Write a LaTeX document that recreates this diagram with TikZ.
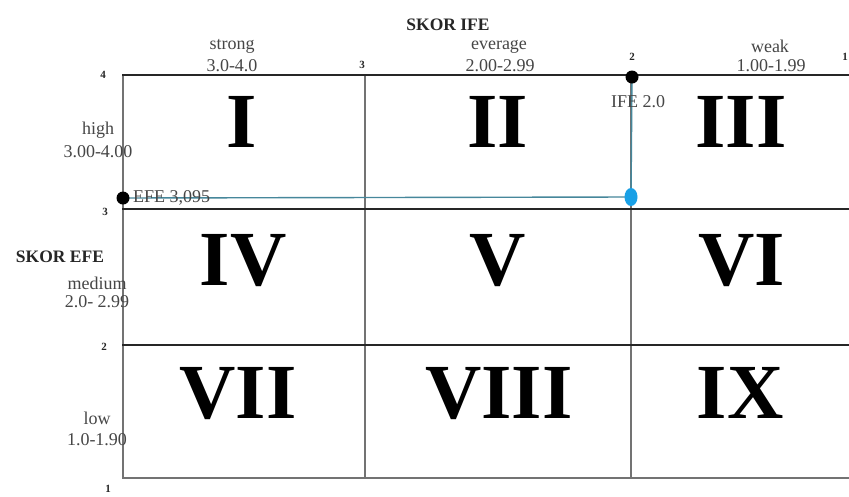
\documentclass[tikz,border=0pt]{standalone}
\usepackage{fontspec}
\setmainfont{Liberation Serif}
\usetikzlibrary{shapes.geometric,backgrounds}
\definecolor{txtgray}{RGB}{70,70,70}
\definecolor{linkcol}{RGB}{70,135,155}
\definecolor{dotblue}{RGB}{25,160,230}
\tikzset{
  lbl/.style={font=\fontsize{18}{18}\selectfont, text=txtgray, inner sep=0pt},
  ttl/.style={font=\fontsize{17.5}{17.5}\selectfont\bfseries, text=black!85, inner sep=0pt},
  tick/.style={font=\fontsize{11}{11}\selectfont\bfseries, text=black!85, inner sep=0pt},
  roman/.style={font=\fontsize{78}{78}\selectfont\bfseries, text=black, inner sep=0pt, anchor=base},
  hline/.style={line width=1.8pt, draw=black!85},
  vline/.style={line width=1.3pt, draw=black!55},
  link/.style={line width=1.4pt, draw=linkcol},
  blackdot/.style={circle, fill=black, inner sep=0pt, minimum size=13pt},
  bluedot/.style={ellipse, fill=dotblue, inner sep=0pt, minimum width=13pt, minimum height=18pt}
}
\begin{document}
\begin{tikzpicture}[x=1pt,y=-1pt]
\useasboundingbox (0,0) rectangle (849,496);
\begin{scope}[on background layer]
  \fill[white] (0,0) rectangle (849,496);
  \draw[vline] (123,75) -- (123,478);
  \draw[vline] (365,75) -- (365,478);
  \draw[vline] (631,75) -- (631,478);
  \draw[hline] (122,75) -- (849,75);
  \draw[hline] (122,209) -- (849,209);
  \draw[hline] (122,345) -- (849,345);
  \draw[hline, draw=black!55] (122,478) -- (849,478);
\end{scope}
% axis titles
\node[ttl] (skorife) at (448,25) {SKOR IFE};
\node[ttl] (skorefe) at (60,257) {SKOR EFE};
% top labels
\node[lbl] (strong) at (232,46) {strong};
\node[lbl] (strongr) at (232,66) {3.0-4.0};
\node[lbl] (everage) at (499,47) {everage};
\node[lbl] (everager) at (500,66) {2.00-2.99};
\node[lbl] (weak) at (770,46) {weak};
\node[lbl] (weakr) at (771,66) {1.00-1.99};
\node[tick] (t3) at (362,65) {3};
\node[tick] (t2) at (632,57) {2};
\node[tick] (t1) at (845,57) {1};
% left labels
\node[tick] (l4) at (103,75) {4};
\node[lbl] (high) at (98,130) {high};
\node[lbl] (highr) at (98,152) {3.00-4.00};
\node[tick] (l3) at (105,212) {3};
\node[lbl] (medium) at (97,283) {medium};
\node[lbl] (mediumr) at (97,302) {2.0- 2.99};
\node[tick] (l2) at (104,347) {2};
\node[lbl] (low) at (97,418) {low};
\node[lbl] (lowr) at (97,440) {1.0-1.90};
\node[tick] (l1) at (108,489) {1};
% roman numerals
\node[roman] (c1) at (242,147) {I};
\node[roman] (c2) at (498,147) {II};
\node[roman] (c3) at (741,147) {III};
\node[roman] (c4) at (243,285) {IV};
\node[roman] (c5) at (498,285) {V};
\node[roman] (c6) at (742,285) {VI};
\node[roman] (c7) at (238,418) {VII};
\node[roman] (c8) at (499,418) {VIII};
\node[roman] (c9) at (740,418) {IX};
% score labels
\node[lbl, anchor=west] (efelbl) at (133,198) {EFE 3,095};
\node[lbl] (ifelbl) at (638,102) {IFE 2.0};
% dots and connector
\node[blackdot] (efedot) at (123,198) {};
\node[bluedot] (middot) at (631,197) {};
\node[blackdot] (ifedot) at (632,77) {};
\begin{scope}[on background layer]
  \draw[link] (efedot.center) -- (middot.center) -- (ifedot.center);
\end{scope}
\end{tikzpicture}
\end{document}
